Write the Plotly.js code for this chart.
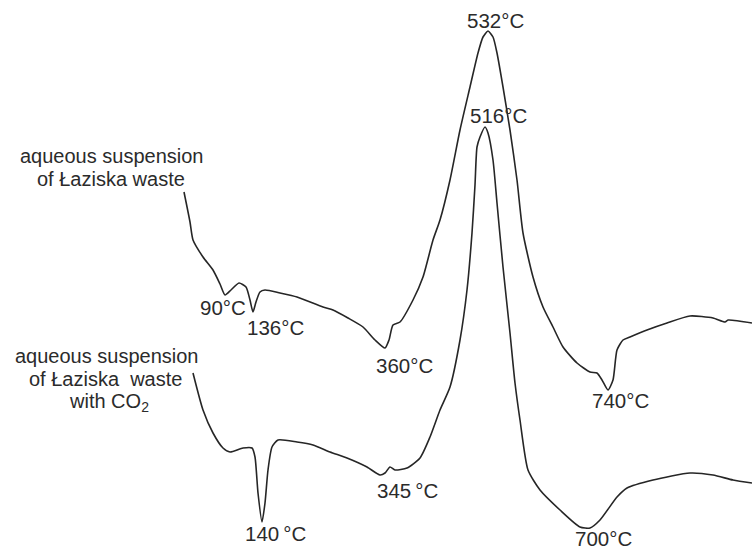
<!DOCTYPE html>
<html><head><meta charset="utf-8">
<script src="https://cdn.plot.ly/plotly-3.0.1.min.js"></script>
<style>html,body{margin:0;padding:0;background:#fff}#chart{width:752px;height:551px}</style>
</head><body><div id="chart"></div>
<script>
// Curve 1: aqueous suspension of Łaziska waste (traced positions on the figure)
const curve1X = [184,190,193,203,213,220,225,231,239,246,250,253,256,260,265,280,297,323,333,348,363,375,385,389,393,400,413,423,433,440,450,460,470,478,483,488,493,497,503,510,517,523,533,543,553,563,577,590,597,602,608,613,617,623,630,647,667,690,713,725,728,752];
const curve1Y = [192,222,240,257,270,284,295,290,283,287,300,312,302,292,290,293,297,307,310,318,327,340,348,340,325,322,300,277,240,220,180,130,87,53,37,31,37,53,87,130,180,233,277,307,327,347,363,372,373,380,390,380,350,340,337,330,323,316,318,322,320,323];
// Curve 2: aqueous suspension of Łaziska waste with CO2
const curve2X = [193,203,213,223,230,243,252,255,258,262,265,268,272,278,297,313,330,347,367,380,385,390,395,407,420,430,440,450,460,467,472,475,477,480,485,488,493,497,503,510,515,520,528,540,560,580,590,600,617,627,653,690,713,733,752];
const curve2Y = [373,410,433,448,452,448,448,457,493,522,503,470,447,440,442,445,452,458,467,475,473,467,470,468,458,437,410,387,340,290,233,185,147,137,127,133,160,203,267,333,383,420,470,490,510,527,528,520,497,488,480,473,475,480,483];
// Peak / dip labels
const peakLabels = ["532°C","516°C","90°C","136°C","360°C","740°C","345\u2009°C","140\u2009°C","700°C"];
const peakLabelX = [495,498,223,275,404,620,408,276,603];
const peakLabelY = [20,115,307,327,365,400,490,533,538];
// Series labels, one entry per text line
const seriesLabelLines = ["aqueous suspension","of Łaziska waste","aqueous suspension","of Łaziska  waste","with CO<sub>2</sub>"];
const seriesLabelX = [111,111,106,105,109];
const seriesLabelY = [156,179,356,379,402];

const lineStyle = {color:'#262626', width:1.6, shape:'spline', smoothing:0.6};
const traces = [
  {x:curve1X, y:curve1Y, mode:'lines', line:lineStyle, hoverinfo:'skip'},
  {x:curve2X, y:curve2Y, mode:'lines', line:lineStyle, hoverinfo:'skip'}
];
const font = {family:'Liberation Sans, Arial, sans-serif', size:20.5, color:'#2b2b2b'};
const labelFont = {family:'Liberation Sans, Arial, sans-serif', size:20, color:'#2b2b2b'};
const annotations = [];
peakLabels.forEach((t,i)=>annotations.push({x:peakLabelX[i], y:peakLabelY[i], xref:'x', yref:'y', text:t, showarrow:false, font:font, xanchor:'center', yanchor:'middle'}));
seriesLabelLines.forEach((t,i)=>annotations.push({x:seriesLabelX[i], y:seriesLabelY[i], xref:'x', yref:'y', text:t, showarrow:false, font:labelFont, xanchor:'center', yanchor:'middle', align:'center', borderpad:0}));

const layout = {
  width:752, height:551,
  margin:{l:0,r:0,t:0,b:0},
  paper_bgcolor:'#fff', plot_bgcolor:'#fff',
  showlegend:false,
  xaxis:{range:[0,752], visible:false, fixedrange:true},
  yaxis:{range:[551,0], visible:false, fixedrange:true},
  annotations:annotations
};
Plotly.newPlot('chart', traces, layout, {staticPlot:true, displayModeBar:false});
</script></body></html>
